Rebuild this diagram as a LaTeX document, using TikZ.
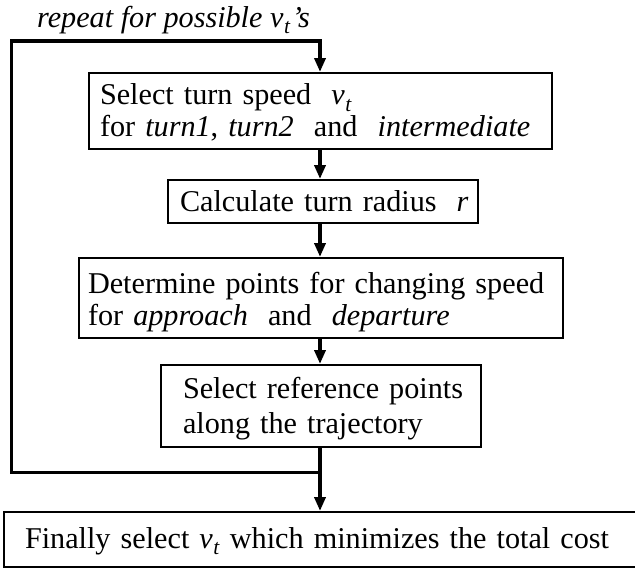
\documentclass[tikz,border=0pt]{standalone}
\usepackage{fontspec}
\setmainfont{Liberation Serif}
\usetikzlibrary{arrows.meta}
\newcommand\vsub{\textit{v}\kern0.02em\raisebox{-0.22em}{\fontsize{21.5}{22}\selectfont\textit{t}}}
\begin{document}
\begin{tikzpicture}[x=1pt,y=-1pt,
  box/.style={draw, line width=2pt, rectangle, inner xsep=0pt, inner ysep=0pt,
    align=left, font=\fontsize{30.2}{32}\selectfont},
  flow/.style={line width=3.5pt, line join=miter, -{Triangle[length=14pt,width=11pt]}},
  lbl/.style={font=\fontsize{30.2}{32}\selectfont\itshape, inner sep=0pt, anchor=base west}]
\useasboundingbox (0,0) rectangle (635,568);

\node[lbl] (rep) at (37,27) {repeat for possible \vsub\kern0.06em'{}s};

\node[box, minimum width=463pt, minimum height=76pt, text width=441pt] (b1) at (320.5,111)
  {\mbox{\rule{0pt}{24pt}Select turn speed\ \ \vsub}\\\mbox{for \textit{turn1}, \textit{turn2}\ \ and\ \ \textit{intermediate}}};
\node[box, minimum width=310pt, minimum height=43pt, text width=286pt] (b2) at (323,201.5)
  {\mbox{Calculate turn radius\ \ \textit{r}}};
\node[box, minimum width=484pt, minimum height=80pt, text width=466pt] (b3) at (321,298)
  {\mbox{\rule{0pt}{29pt}Determine points for changing speed}\\\mbox{for \textit{approach}\ \ and\ \ \textit{departure}}};
\node[box, minimum width=320pt, minimum height=82pt, text width=276pt,
  font=\fontsize{30.2}{35}\selectfont] (b4) at (321,406)
  {\mbox{\rule{0pt}{27pt}Select reference points}\\\mbox{along the trajectory}};
\node[box, minimum width=641pt, minimum height=55pt, text width=599pt] (b5) at (324.5,539.5)
  {\mbox{\rule{0pt}{24pt}Finally select \vsub\ which minimizes the total cost}};

\coordinate (jt) at (320,41);
\coordinate (tl) at (11.5,41);
\coordinate (bl) at (11.5,472.5);
\coordinate (jb) at (320,472.5);

\draw[flow] (jb) -- (bl) -- (tl) -- (jt) -- (jt |- b1.north);
\draw[flow] (jt |- b1.south) -- (jt |- b2.north);
\draw[flow] (jt |- b2.south) -- (jt |- b3.north);
\draw[flow] (jt |- b3.south) -- (jt |- b4.north);
\draw[flow] (jt |- b4.south) -- (jt |- b5.north);
\end{tikzpicture}
\end{document}
